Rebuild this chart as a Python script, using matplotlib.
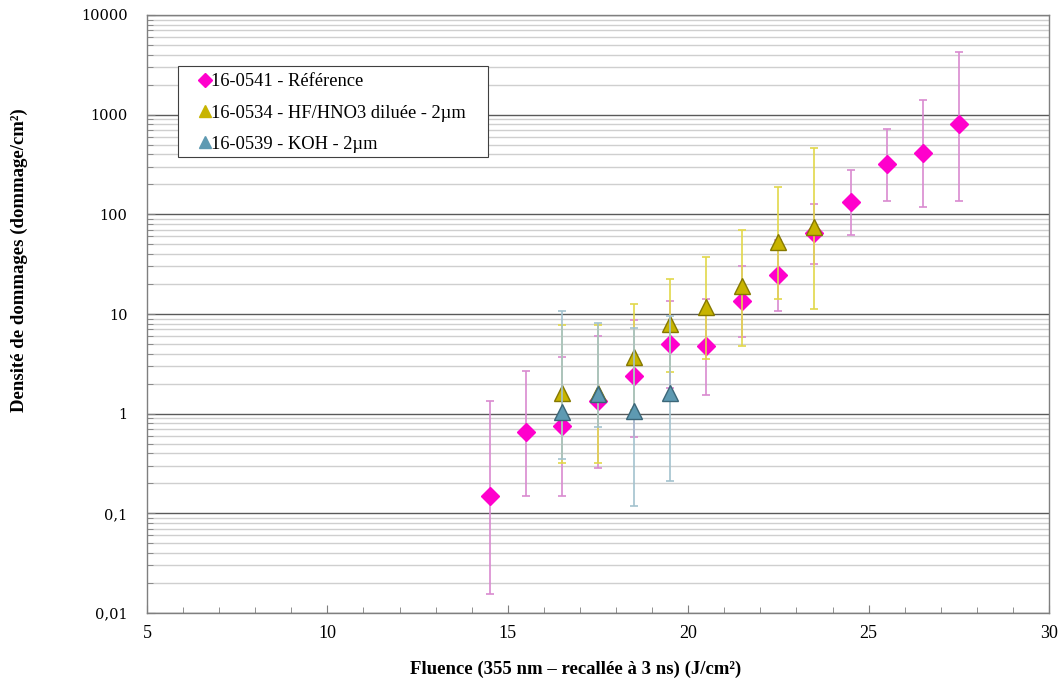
import matplotlib
matplotlib.use("Agg")
import matplotlib.pyplot as plt
from matplotlib.patches import Rectangle
from matplotlib.ticker import FixedLocator, FuncFormatter, LogLocator, NullFormatter

# ---- data ----
x_ref = [14.5, 15.5, 16.5, 17.5, 18.5, 19.5, 20.5, 21.5, 22.5, 23.5, 24.5, 25.5, 26.5, 27.5]
y_ref = [0.15, 0.65, 0.75, 1.35, 2.37, 4.97, 4.8, 13.4, 24.7, 65, 134, 319, 417, 803]
ref_lo = [0.0155, 0.149, 0.149, 0.283, 0.59, 1.8, 1.54, 5.9, 10.8, 32, 62, 137, 119, 137]
ref_hi = [1.33, 2.7, 3.68, 6.0, 8.7, 13.4, 14.1, 30, 55, 126, 280, 710, 1400, 4300]

x_hf = [16.5, 17.5, 18.5, 19.5, 20.5, 21.5, 22.5, 23.5]
y_hf = [1.6, 1.6, 3.7, 7.9, 11.7, 19, 53, 74]
hf_lo = [0.32, 0.32, 1.1, 2.6, 3.5, 4.8, 14, 11.2]
hf_hi = [7.7, 7.7, 12.5, 22.5, 37, 70, 190, 462]

x_koh = [16.5, 17.5, 18.5, 19.5]
y_koh = [1.05, 1.58, 1.06, 1.63]
koh_lo = [0.35, 0.74, 0.118, 0.21]
koh_hi = [10.7, 8.1, 7.2, 9.6]

labels = ["16-0541 - Référence", "16-0534 - HF/HNO3 diluée - 2µm", "16-0539 - KOH - 2µm"]
x_ticks = [5, 10, 15, 20, 25, 30]
y_ticks = [0.01, 0.1, 1, 10, 100, 1000, 10000]
y_ticklabels = ["0,01", "0,1", "1", "10", "100", "1000", "10000"]

# ---- figure ----
W, H = 1063, 686
fig = plt.figure(figsize=(W/100, H/100), dpi=100)
ax = fig.add_axes([147/W, 1-613/H, (1049-147)/W, (613-15)/H])
ax.set_yscale("log")
ax.set_xlim(5, 30)
ax.set_ylim(0.01, 10000)

def err(y, lo, hi):
    return [[v - l for v, l in zip(y, lo)], [h - v for v, h in zip(y, hi)]]

series = [
    (x_ref, y_ref, ref_lo, ref_hi, "D", 9, "#FF00CC", "#FF00CC", "#D98AD0", labels[0]),
    (x_hf, y_hf, hf_lo, hf_hi, "^", 11, "#C8B400", "#857800", "#E2D84A", labels[1]),
    (x_koh, y_koh, koh_lo, koh_hi, "^", 11, "#5E9AB2", "#3B6678", "#A3C2CE", labels[2]),
]
for i, (x, y, lo, hi, m, ms, fc, ec, ecol, lab) in enumerate(series):
    ax.errorbar(x, y, yerr=err(y, lo, hi), fmt="none", ecolor=ecol, elinewidth=1.2,
                capsize=3, capthick=1.2, zorder=3 + 2*i)
    ax.plot(x, y, linestyle="none", marker=m, markersize=ms, markerfacecolor=fc,
            markeredgecolor=ec, markeredgewidth=1.0, zorder=4 + 2*i)

# grid
ax.yaxis.set_minor_locator(LogLocator(base=10, subs=range(2, 10), numticks=20))
ax.yaxis.set_minor_formatter(NullFormatter())
ax.grid(True, which="major", axis="y", color="#5A5A5A", linewidth=1.0, zorder=1)
ax.grid(True, which="minor", axis="y", color="#CFCFCF", linewidth=1.0, zorder=1)
ax.set_axisbelow(True)

ax.yaxis.set_major_locator(FixedLocator(y_ticks))
ax.yaxis.set_major_formatter(FuncFormatter(lambda v, p: y_ticklabels[y_ticks.index(v)] if v in y_ticks else ""))
ax.xaxis.set_major_locator(FixedLocator(x_ticks))
ax.xaxis.set_minor_locator(FixedLocator(list(range(5, 31))))

ax.tick_params(axis="both", which="both", direction="in", color="#7F7F7F")
ax.tick_params(axis="y", which="major", length=6, pad=14)
ax.tick_params(axis="y", which="minor", length=4)
ax.tick_params(axis="x", which="major", length=6, pad=9)
ax.tick_params(axis="x", which="minor", length=4)
for lab in ax.get_yticklabels():
    lab.set_fontfamily("DejaVu Serif")
    lab.set_fontsize(10.5)
for lab in ax.get_xticklabels():
    lab.set_fontfamily("Liberation Serif")
    lab.set_fontsize(13)

for s in ax.spines.values():
    s.set_color("#7F7F7F")
    s.set_linewidth(1.0)

fig.text(576/W, 1-669/H, "Fluence (355 nm – recallée à 3 ns) (J/cm²)", ha="center", va="center",
         fontfamily="Liberation Serif", fontweight="bold", fontsize=13.5)
fig.text(19/W, 1-260/H, "Densité de dommages (dommage/cm²)", ha="center", va="center",
         rotation=90, fontfamily="Liberation Serif", fontweight="bold", fontsize=13.5)

# legend box
box = Rectangle((178/W, 1-157/H), (488-178)/W, (157-66)/H, transform=fig.transFigure,
                facecolor="white", edgecolor="#404040", linewidth=0.8, zorder=19)
fig.patches.append(box)

leg_handles = []
for (x, y, lo, hi, m, ms, fc, ec, ecol, lab) in series:
    hh, = ax.plot([], [], linestyle="none", marker=m, markersize=7 if m == "D" else 8,
                  markerfacecolor=fc, markeredgecolor=fc, label=lab)
    leg_handles.append(hh)
fs = 13.3
em = fs * 100 / 72
leg = fig.legend(handles=leg_handles, loc="upper left", bbox_to_anchor=(185/W, 1-73.5/H),
                 prop={"family": "Liberation Serif", "size": fs}, frameon=False,
                 handlelength=40/em, handletextpad=-14/em, borderpad=0,
                 labelspacing=0.76, borderaxespad=0)
leg.set_zorder(20)

fig.savefig("out.png", dpi=100)
